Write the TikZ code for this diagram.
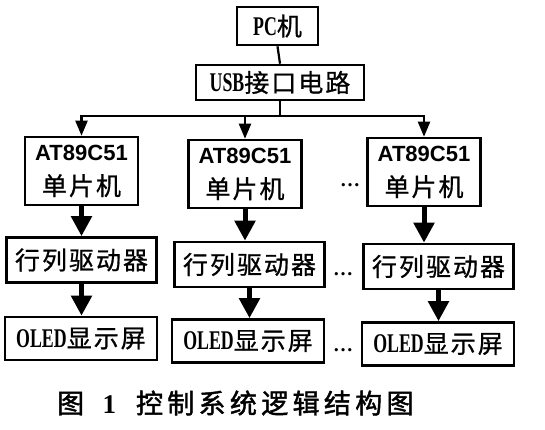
\documentclass[tikz,border=0pt]{standalone}
\usepackage{fontspec}
\setmainfont{Liberation Serif}
\newfontfamily\cjkfont[LetterSpace=8,FakeBold=0.8]{Noto Sans CJK SC}
\newfontfamily\capfont[LetterSpace=16,FakeBold=1.6]{Noto Sans CJK SC}
\newfontfamily\narrowfont[FakeStretch=0.66]{Liberation Serif}
\newfontfamily\chipfont{Liberation Sans}
\newcommand{\lat}[1]{{\narrowfont\bfseries\fontsize{27}{30}\selectfont #1}}
\usetikzlibrary{arrows.meta}

\begin{document}
\begin{tikzpicture}[
    x=1pt, y=-1pt,
    box/.style={
        draw,
        line width=2.6pt,
        inner sep=0pt,
        align=center,
        font=\fontsize{25}{35}\selectfont
    },
    chip/.style={box, minimum width=113pt, minimum height=68pt},
    driver/.style={box, minimum width=150pt, minimum height=45pt},
    screen/.style={box, minimum width=152pt, minimum height=43pt},
    dots/.style={font=\fontsize{20}{20}\selectfont\bfseries, inner sep=0pt},
    bus/.style={line width=2.2pt, -{Triangle[width=12pt,length=15pt]}},
    flow/.style={line width=5pt, -{Triangle[width=20pt,length=20pt]}},
    caption/.style={font=\fontsize{27}{30}\selectfont, inner sep=0pt}
]
\useasboundingbox (0,0) rectangle (545,429);

% PC and USB.
\node[box, minimum width=81pt, minimum height=38pt] (pc) at (277.5,26)
    {\lat{PC}{\cjkfont 机}};
\node[box, minimum width=168pt, minimum height=35pt] (usb) at (280,82.5)
    {\lat{USB}{\cjkfont 接口电路}};
\draw[line width=2.2pt] (pc.south) -- (usb.north);
\draw[line width=2.2pt] (usb.south) -- ++(0,15) coordinate (bus);

% AT89C51 row.
\foreach \i/\x/\y in {1/81.5/171, 2/245/174, 3/424/172} {
    \node[chip] (at\i) at (\x,\y)
        {{\chipfont\bfseries\fontsize{22}{34}\selectfont AT89C51}\\{\cjkfont 单片机}};
    \draw[bus] (bus) -| (at\i.north);
}
\node[dots, anchor=base] (dotsA) at (350,186) {…};

% driver row.
\foreach \i/\x/\y in {1/81.5/260, 2/249.5/264.5, 3/438.5/266.5} {
    \node[driver] (drv\i) at (\x,\y) {\cjkfont 行列驱动器};
    \draw[flow] (at\i.south) -- (at\i.south |- drv\i.north);
}
\node[dots, anchor=base] (dotsB) at (343,275) {…};

% OLED row.
\foreach \i/\x/\y in {1/81/338.5, 2/248/341, 3/438/344} {
    \node[screen] (oled\i) at (\x,\y)
        {\lat{OLED}{\cjkfont 显示屏}};
    \draw[flow] (drv\i.south) -- (drv\i.south |- oled\i.north);
}
\node[dots, anchor=base] (dotsC) at (343,351) {…};

% caption.
\node[caption, anchor=west] (cap) at (57,403)
    {{\capfont 图}\hspace{14pt}\textbf{1}\hspace{20pt}{\capfont 控制系统逻辑结构图}};

\end{tikzpicture}
\end{document}
